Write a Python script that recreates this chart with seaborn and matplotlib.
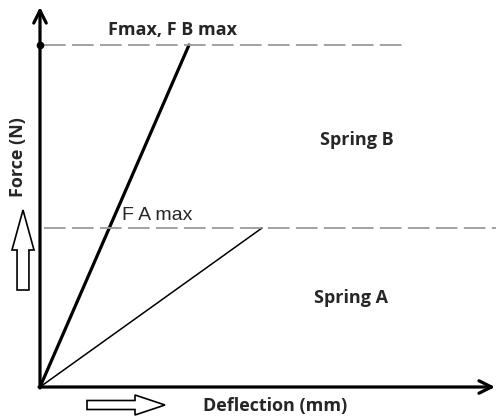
import numpy as np
import pandas as pd
import matplotlib.pyplot as plt
import seaborn as sns

# schematic values (arbitrary units)
springs = ["Spring A", "Spring B"]
deflection_end = [222, 149]
force_end = [159, 342]
f_max = 342
f_a_max = 159

df = pd.DataFrame({
    "Spring": np.repeat(springs, 2),
    "Deflection": [0, deflection_end[0], 0, deflection_end[1]],
    "Force": [0, force_end[0], 0, force_end[1]],
})

sns.set_style("white")
fig = plt.figure(figsize=(4.96, 4.17), dpi=100)
ax = fig.add_axes([40 / 496, 30 / 417, 454 / 496, 379 / 417])

sns.lineplot(data=df, x="Deflection", y="Force", hue="Spring", size="Spring",
             sizes={"Spring A": 1.1, "Spring B": 2.3},
             palette={"Spring A": "black", "Spring B": "black"},
             legend=False, ax=ax)

ax.set_xlim(0, 454)
ax.set_ylim(0, 379)
for s in ax.spines.values():
    s.set_visible(False)
ax.set_xticks([])
ax.set_yticks([])
ax.set_xlabel("")
ax.set_ylabel("")

# dashed limits
dash = (0, (12, 3.5))
ax.plot([4, 362], [f_max, f_max], ls=dash, color="#9a9a9a", lw=1.3)
ax.plot([4, 456], [f_a_max, f_a_max], ls=dash, color="#9a9a9a", lw=1.3,
        clip_on=False)
ax.plot([0], [f_max], "o", color="black", ms=4.5, clip_on=False)

# axes with arrow heads
ax.annotate("", xy=(0, 380), xytext=(0, -1), xycoords="data",
            arrowprops=dict(arrowstyle="->,head_length=0.9,head_width=0.45",
                            lw=2.3, color="black", shrinkA=0, shrinkB=0),
            annotation_clip=False)
ax.annotate("", xy=(455, 0), xytext=(-1, 0), xycoords="data",
            arrowprops=dict(arrowstyle="->,head_length=0.9,head_width=0.45",
                            lw=2.3, color="black", shrinkA=0, shrinkB=0),
            annotation_clip=False)

# labels
bold = dict(fontsize=13, fontweight="bold", family="Open Sans",
            ha="center", va="center")
ax.text(133, 357, "Fmax, F B max", **bold)
ax.text(117, 172, "F A max", fontsize=14, family="Liberation Sans",
        ha="center", va="center")
ax.text(317, 247, "Spring B", **bold)
ax.text(311, 89, "Spring A", **bold)
fig.text(18 / 496, 1 - 157 / 417, "Force (N)", rotation=90, **bold)
fig.text(275 / 496, 1 - 406 / 417, "Deflection (mm)", **bold)

# hollow arrows next to the axis titles
fig.patches.append(plt.matplotlib.patches.FancyArrow(
    23 / 496, 1 - 290 / 417, 0, 80 / 417, width=10 / 417, head_width=22 / 496,
    head_length=40 / 417, length_includes_head=True, transform=fig.transFigure,
    fc="white", ec="black", lw=1.2))
fig.patches.append(plt.matplotlib.patches.FancyArrow(
    87 / 496, 1 - 405 / 417, 78 / 496, 0, width=9 / 417, head_width=20 / 417,
    head_length=30 / 496, length_includes_head=True, transform=fig.transFigure,
    fc="white", ec="black", lw=1.2))

fig.savefig("out.png", dpi=100)
